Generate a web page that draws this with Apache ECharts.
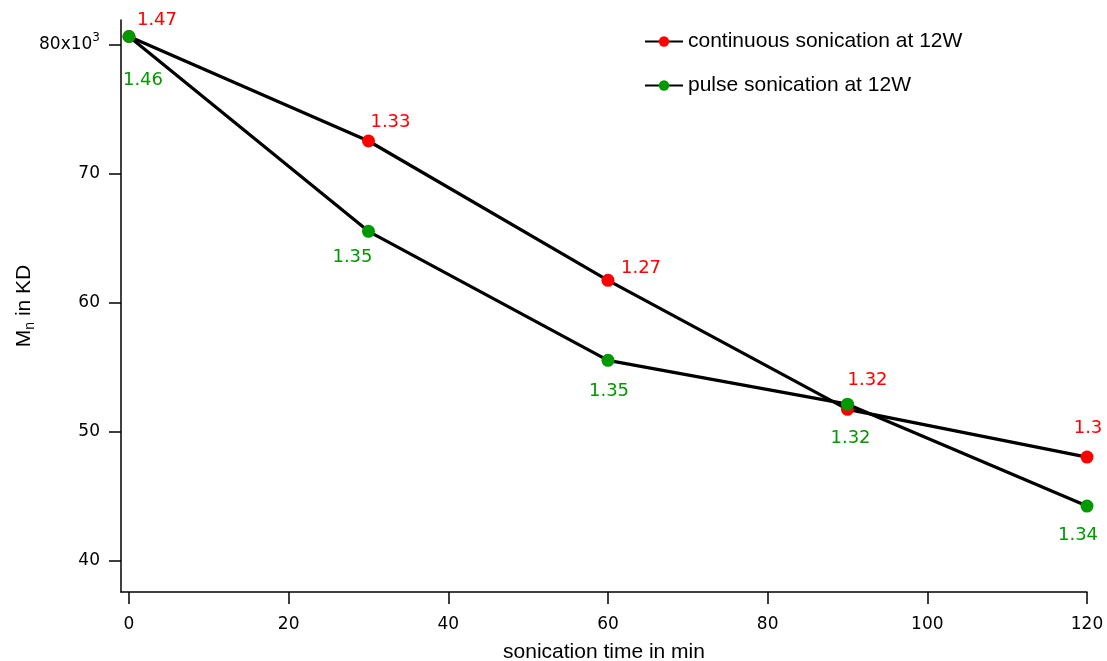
<!DOCTYPE html>
<html>
<head>
<meta charset="utf-8">
<script src="https://cdn.jsdelivr.net/npm/echarts@6/dist/echarts.min.js"></script>
<style>html,body{margin:0;padding:0;background:#fff}#c{width:1107px;height:661px}</style>
</head>
<body>
<div id="c"></div>
<script>
// ---- data ----
const times = [0, 30, 60, 90, 120];
const continuousMn = [80.6, 72.5, 61.7, 51.7, 48.0];
const pulseMn = [80.6, 65.5, 55.5, 52.1, 44.2];
const continuousPDI = ['1.47', '1.33', '1.27', '1.32', '1.3'];
const pulsePDI = ['1.46', '1.35', '1.35', '1.32', '1.34'];
const xTicks = [0, 20, 40, 60, 80, 100, 120];
const yTicks = [40, 50, 60, 70, 80];
const seriesNames = ['continuous sonication at 12W', 'pulse sonication at 12W'];

// label placement (layout only)
const redOffsets = [[28, -16], [22, -19], [33, -12], [20, -29], [1, -29]];
const greenOffsets = [[14, 44], [-16, 26], [1, 31], [3, 34], [-9, 29]];

const RED = '#ff0000', GREEN = '#009900';

function build(vals, labels, offs, color) {
  return vals.map((v, i) => ({
    value: [times[i], v],
    label: { show: true, position: 'inside', offset: offs[i], formatter: labels[i],
      color: color, fontFamily: 'DejaVu Sans', fontSize: 18 }
  }));
}

const chart = echarts.init(document.getElementById('c'), null, { renderer: 'canvas' });
chart.setOption({
  animation: false,
  backgroundColor: '#fff',
  grid: { left: 121, right: 20, top: 20, bottom: 69, containLabel: false, outerBoundsMode: 'none' },
  legend: {
    left: 639, top: 26, orient: 'vertical', itemGap: 23,
    itemWidth: 38, itemHeight: 13,
    textStyle: { fontFamily: 'Liberation Sans', fontSize: 21, color: '#000' },
    data: seriesNames
  },
  xAxis: {
    type: 'value', min: -1, max: 120,
    name: 'sonication time in min', nameLocation: 'middle', nameGap: 50, nameMoveOverlap: false,
    nameTextStyle: { fontFamily: 'Liberation Sans', fontSize: 21, color: '#000' },
    axisLine: { show: true, onZero: false, lineStyle: { color: '#000', width: 1.5 } },
    axisTick: { show: true, inside: false, length: 12, customValues: xTicks, lineStyle: { color: '#000', width: 1.5 } },
    axisLabel: { customValues: xTicks, margin: 24, fontFamily: 'DejaVu Sans', fontSize: 17, color: '#000' },
    splitLine: { show: false }
  },
  yAxis: {
    type: 'value', min: 37.54, max: 81.88,
    name: '{m|M}{s|n}{m| in KD}', nameLocation: 'middle', nameGap: 84, nameRotate: 90, nameMoveOverlap: false,
    nameTextStyle: {
      color: '#000',
      rich: {
        m: { fontFamily: 'Liberation Sans', fontSize: 21, color: '#000' },
        s: { fontFamily: 'Liberation Sans', fontSize: 14, color: '#000', verticalAlign: 'bottom', padding: [12, 0, 0, 0] }
      }
    },
    axisLine: { show: true, onZero: false, lineStyle: { color: '#000', width: 1.5 } },
    axisTick: { show: true, inside: false, length: 12, customValues: yTicks, lineStyle: { color: '#000', width: 1.5 } },
    axisLabel: {
      customValues: yTicks, margin: 21, color: '#000',
      fontFamily: 'DejaVu Sans', fontSize: 17,
      formatter: v => v === 80 ? '{n|80x10}{p|3}' : '{n|' + v + '}',
      rich: {
        n: { fontFamily: 'DejaVu Sans', fontSize: 17, color: '#000' },
        p: { fontFamily: 'DejaVu Sans', fontSize: 12, color: '#000', verticalAlign: 'top', padding: [0, 0, 12, 0] }
      }
    },
    splitLine: { show: false }
  },
  series: [
    {
      name: seriesNames[0], type: 'line',
      data: build(continuousMn, continuousPDI, redOffsets, RED),
      symbol: 'circle', symbolSize: 13,
      itemStyle: { color: RED },
      lineStyle: { color: '#000', width: 3.2 },
      z: 2
    },
    {
      name: seriesNames[1], type: 'line',
      data: build(pulseMn, pulsePDI, greenOffsets, GREEN),
      symbol: 'circle', symbolSize: 13,
      itemStyle: { color: GREEN },
      lineStyle: { color: '#000', width: 3.2 },
      z: 3
    }
  ]
});
</script>
</body>
</html>
